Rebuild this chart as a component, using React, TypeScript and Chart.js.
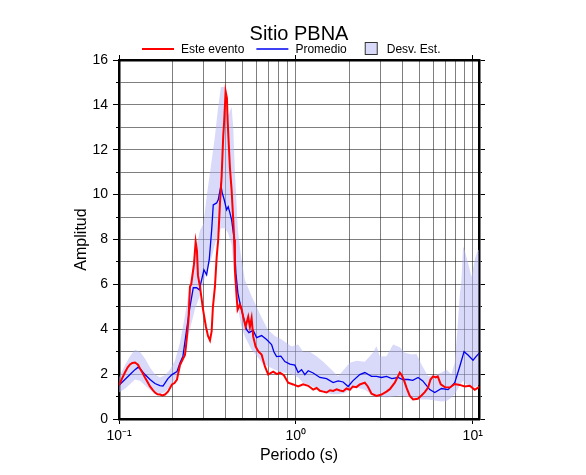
import React, { useEffect, useRef } from 'react';
import { Chart, registerables } from 'chart.js';
Chart.register(...registerables);

const chartTitle = 'Sitio PBNA';
const xTitle = 'Periodo (s)';
const yTitle = 'Amplitud';
const legendLabels = ['Este evento', 'Promedio', 'Desv. Est.'];
const xDecades = [0.1, 1, 10];
const xTickLabels = ['10⁻¹', '10⁰', '10¹'];

const redPeriods = [0.100, 0.104, 0.108, 0.112, 0.1154, 0.119, 0.1231, 0.128, 0.1314, 0.136, 0.1402, 0.145, 0.1497, 0.155, 0.1597, 0.165, 0.1704, 0.176, 0.1819, 0.1891, 0.1993, 0.206, 0.2127, 0.2211, 0.229, 0.2360, 0.2389, 0.2430, 0.2470, 0.2519, 0.2560, 0.2585, 0.2654, 0.2713, 0.2759, 0.2795, 0.2869, 0.2984, 0.3103, 0.3185, 0.3269, 0.3340, 0.3397, 0.3487, 0.3565, 0.3639, 0.3721, 0.3804, 0.3884, 0.3935, 0.4007, 0.4076, 0.4113, 0.4183, 0.4238, 0.4332, 0.4423, 0.4481, 0.4522, 0.4624, 0.4684, 0.4826, 0.4930, 0.5038, 0.5197, 0.5377, 0.5497, 0.5620, 0.5739, 0.5921, 0.6150, 0.6400, 0.6682, 0.6975, 0.7200, 0.7447, 0.7810, 0.8120, 0.8552, 0.9048, 0.9654, 1.030, 1.0996, 1.174, 1.2525, 1.31, 1.367, 1.43, 1.491, 1.56, 1.625, 1.70, 1.773, 1.85, 1.934, 2.02, 2.099, 2.20, 2.299, 2.454, 2.552, 2.677, 2.857, 3.050, 3.254, 3.398, 3.625, 3.869, 3.971, 4.076, 4.222, 4.407, 4.600, 4.890, 5.131, 5.356, 5.591, 5.771, 5.967, 6.18, 6.343, 6.596, 6.949, 7.413, 7.913, 8.445, 9.012, 9.618, 10.26, 10.95];
const redValues = [1.50, 1.80, 2.07, 2.30, 2.43, 2.50, 2.52, 2.42, 2.25, 2.05, 1.85, 1.65, 1.45, 1.30, 1.18, 1.10, 1.09, 1.05, 1.09, 1.22, 1.54, 1.60, 1.76, 2.40, 2.65, 2.85, 3.2, 3.8, 4.4, 5.9, 6.0, 6.0, 6.9, 7.9, 7.5, 6.4, 5.9, 4.9, 4.1, 3.7, 3.5, 3.9, 5.0, 5.9, 7.2, 8.0, 9.6, 10.8, 12.6, 13.3, 14.6, 14.3, 13.3, 12.1, 11.2, 10.2, 8.9, 8.0, 6.65, 5.45, 4.87, 5.1, 4.9, 4.56, 4.12, 4.56, 4.1, 4.5, 3.67, 3.23, 3.0, 2.87, 2.34, 1.98, 2.05, 2.11, 2.0, 2.07, 1.95, 1.62, 1.54, 1.45, 1.55, 1.48, 1.31, 1.38, 1.26, 1.22, 1.18, 1.28, 1.25, 1.32, 1.27, 1.24, 1.36, 1.30, 1.45, 1.42, 1.54, 1.62, 1.45, 1.13, 1.03, 1.09, 1.22, 1.33, 1.62, 2.07, 1.95, 1.75, 1.40, 1.03, 0.87, 0.90, 1.05, 1.20, 1.40, 1.76, 1.90, 1.85, 1.90, 1.54, 1.42, 1.40, 1.56, 1.52, 1.45, 1.48, 1.30, 1.45];

const bluePeriods = [0.100, 0.108, 0.1154, 0.1231, 0.1280, 0.1314, 0.1402, 0.1497, 0.1597, 0.1704, 0.1773, 0.1819, 0.1891, 0.1993, 0.2127, 0.2211, 0.2299, 0.2413, 0.2519, 0.2630, 0.2748, 0.2842, 0.2932, 0.3021, 0.3129, 0.3237, 0.3340, 0.3411, 0.3565, 0.3639, 0.3770, 0.3834, 0.3935, 0.4060, 0.4145, 0.4238, 0.4332, 0.4481, 0.4581, 0.4703, 0.4826, 0.5038, 0.5266, 0.5426, 0.5739, 0.5998, 0.6400, 0.6831, 0.7290, 0.7511, 0.7780, 0.8228, 0.8665, 0.9250, 0.9871, 1.030, 1.077, 1.124, 1.174, 1.2525, 1.367, 1.491, 1.625, 1.734, 1.850, 1.975, 2.099, 2.299, 2.454, 2.677, 2.857, 3.050, 3.254, 3.487, 3.784, 4.022, 4.311, 4.581, 4.909, 5.218, 5.716, 6.100, 6.657, 7.253, 7.913, 8.445, 8.930, 9.405, 10.04, 10.49, 10.95];
const blueValues = [1.50, 1.76, 1.98, 2.20, 2.30, 2.25, 1.98, 1.76, 1.58, 1.49, 1.47, 1.60, 1.80, 1.98, 2.11, 2.50, 2.80, 4.0, 5.0, 5.85, 5.85, 5.76, 6.2, 6.65, 6.43, 7.1, 8.4, 9.54, 9.63, 9.77, 10.4, 10.08, 9.77, 9.32, 9.46, 9.19, 8.88, 8.0, 6.5, 5.6, 5.18, 4.56, 3.98, 3.85, 3.95, 3.63, 3.72, 3.54, 3.32, 3.0, 2.78, 2.80, 2.56, 2.45, 2.40, 2.07, 2.20, 1.98, 2.15, 2.05, 1.85, 1.80, 1.62, 1.70, 1.65, 1.45, 1.70, 1.98, 2.07, 1.90, 1.90, 1.85, 1.90, 1.80, 1.85, 1.76, 1.76, 1.72, 1.85, 1.70, 1.31, 1.18, 1.36, 1.31, 1.62, 2.34, 3.00, 2.85, 2.62, 2.80, 2.96];

const bandPeriods = [0.100, 0.108, 0.1154, 0.1231, 0.1314, 0.1402, 0.1497, 0.1597, 0.1704, 0.1819, 0.1941, 0.2072, 0.2211, 0.2360, 0.2519, 0.2688, 0.2869, 0.3002, 0.3142, 0.3340, 0.3487, 0.3625, 0.3770, 0.3971, 0.4128, 0.4332, 0.4423, 0.4522, 0.4703, 0.4890, 0.5150, 0.5620, 0.6101, 0.6425, 0.6947, 0.7611, 0.8303, 0.9456, 1.030, 1.0996, 1.199, 1.309, 1.427, 1.591, 1.734, 1.867, 2.018, 2.203, 2.454, 2.734, 2.857, 2.983, 3.254, 3.546, 3.869, 4.129, 4.505, 4.807, 5.131, 5.591, 6.100, 6.657, 7.104, 7.580, 7.913, 8.196, 8.445, 8.634, 8.815, 9.012, 9.405, 9.832, 10.26, 10.71, 10.95];
const bandUpper = [1.85, 2.40, 2.80, 3.09, 3.00, 2.70, 2.30, 2.00, 1.85, 1.95, 2.20, 2.60, 3.40, 4.60, 6.00, 7.40, 8.40, 8.70, 10.0, 11.5, 12.6, 13.8, 14.8, 14.8, 13.5, 13.9, 13.0, 11.0, 8.40, 7.30, 6.20, 5.47, 4.87, 4.50, 3.98, 3.70, 3.54, 3.23, 3.32, 3.00, 3.00, 2.80, 2.55, 2.20, 1.90, 2.20, 2.51, 2.60, 2.55, 2.96, 3.25, 2.78, 2.80, 3.32, 3.20, 2.95, 2.87, 2.90, 2.43, 1.90, 1.95, 2.07, 2.20, 2.00, 2.51, 4.00, 5.50, 6.20, 7.68, 7.50, 6.96, 6.34, 7.10, 7.54, 7.50];
const bandLower = [1.18, 1.35, 1.55, 1.76, 1.70, 1.50, 1.30, 1.15, 1.10, 1.20, 1.45, 1.75, 2.20, 3.00, 4.00, 4.90, 5.50, 6.10, 6.60, 7.20, 7.80, 8.20, 8.50, 8.50, 8.30, 7.80, 7.00, 6.00, 5.00, 4.20, 3.67, 3.09, 2.75, 2.51, 2.35, 2.20, 2.10, 2.00, 1.85, 1.60, 1.50, 1.35, 1.20, 1.10, 1.10, 1.15, 1.30, 1.40, 1.30, 1.05, 1.00, 1.00, 0.96, 1.00, 1.05, 1.00, 0.96, 0.92, 0.87, 0.87, 0.82, 0.78, 0.80, 0.96, 1.10, 1.30, 1.50, 1.60, 1.70, 1.60, 1.50, 1.40, 1.40, 1.50, 1.50];

const FONT = '"Liberation Sans", Arial, Helvetica, sans-serif';
const RED = 'rgb(255,0,0)';
const BLUE = 'rgb(0,0,240)';
const BAND = 'rgba(180,180,245,0.5)';
const BAND_SOLID = 'rgb(217,217,250)';
const GRID = 'rgba(0,0,0,0.5)';

const pts = (xs: number[], ys: number[]) => xs.map((x, i) => ({ x, y: ys[i] }));
const isDecade = (v: number) => Math.abs(Math.log10(v) - Math.round(Math.log10(v))) < 1e-6;

const legendPlugin = {
  id: 'customTitleLegend',
  afterDraw(chart: any) {
    const { ctx, chartArea } = chart;
    ctx.save();
    ctx.fillStyle = '#000';
    ctx.font = `20px ${FONT}`;
    ctx.textAlign = 'center';
    ctx.textBaseline = 'alphabetic';
    ctx.fillText(chartTitle, (chartArea.left + chartArea.right) / 2, 40);

    ctx.font = `12px ${FONT}`;
    ctx.textAlign = 'left';
    const ly = 49;
    let x = chartArea.left + 23;
    // red line
    ctx.strokeStyle = RED; ctx.lineWidth = 2;
    ctx.beginPath(); ctx.moveTo(x, ly); ctx.lineTo(x + 32, ly); ctx.stroke();
    x += 39;
    ctx.fillText(legendLabels[0], x, 53);
    x += ctx.measureText(legendLabels[0]).width + 12;
    ctx.strokeStyle = BLUE; ctx.lineWidth = 1.5;
    ctx.beginPath(); ctx.moveTo(x, ly); ctx.lineTo(x + 32, ly); ctx.stroke();
    x += 39;
    ctx.fillText(legendLabels[1], x, 53);
    x += ctx.measureText(legendLabels[1]).width + 18;
    ctx.fillStyle = BAND_SOLID;
    ctx.fillRect(x + 0.5, 42.5, 12, 12);
    ctx.strokeStyle = '#333'; ctx.lineWidth = 1;
    ctx.strokeRect(x + 0.5, 42.5, 12, 12);
    x += 22;
    ctx.fillStyle = '#000';
    ctx.fillText(legendLabels[2], x, 53);
    ctx.restore();
  },
};

export default function App() {
  const ref = useRef<HTMLCanvasElement>(null);
  useEffect(() => {
    Chart.defaults.font.family = FONT;
    Chart.defaults.color = '#000';
    const minorTicks: number[] = [];
    for (let d = 0; d < xDecades.length; d++) {
      for (let m = 1; m <= 9; m++) {
        const v = xDecades[d] * m;
        if (v <= 10.85) minorTicks.push(v);
      }
    }
    const xMin = 0.1, xMax = 10.85;
    const borderW = 2.5;
    const chart = new Chart(ref.current!, {
      type: 'line',
      data: {
        datasets: [
          { label: legendLabels[0], data: pts(redPeriods, redValues), borderColor: RED, borderWidth: 2, pointRadius: 0, tension: 0, fill: false, yAxisID: 'y', xAxisID: 'x' },
          { label: legendLabels[1], data: pts(bluePeriods, blueValues), borderColor: BLUE, borderWidth: 1.3, pointRadius: 0, tension: 0, fill: false, yAxisID: 'y', xAxisID: 'x' },
          { label: legendLabels[2], data: pts(bandPeriods, bandUpper), borderColor: 'rgba(0,0,0,0)', borderWidth: 0, backgroundColor: BAND, pointRadius: 0, tension: 0, fill: '+1', yAxisID: 'y', xAxisID: 'x' },
          { label: 'lower', data: pts(bandPeriods, bandLower), borderColor: 'rgba(0,0,0,0)', borderWidth: 0, pointRadius: 0, tension: 0, fill: false, yAxisID: 'y', xAxisID: 'x' },
        ],
      },
      options: {
        responsive: false,
        animation: false,
        devicePixelRatio: 1,
        layout: { padding: 0 },
        plugins: { legend: { display: false }, tooltip: { enabled: false }, title: { display: false } },
        scales: {
          x: {
            type: 'logarithmic', position: 'bottom', min: xMin, max: xMax,
            afterBuildTicks: (s: any) => { s.ticks = minorTicks.map((v) => ({ value: v, major: isDecade(v) })); },
            afterFit: (s: any) => { s.height = 56; },
            grid: { color: GRID, lineWidth: 1, drawTicks: true, tickLength: 5, tickColor: (c: any) => (c.tick && isDecade(c.tick.value) ? '#000' : 'rgba(0,0,0,0)'), tickWidth: 1 },
            border: { display: true, color: '#000', width: borderW },
            ticks: {
              autoSkip: false, maxRotation: 0, padding: 4, font: { size: 14 }, color: '#000',
              callback: (v: any) => { const i = xDecades.findIndex((d) => Math.abs(d - Number(v)) < 1e-9); return i >= 0 ? xTickLabels[i] : ''; },
            },
            title: { display: true, text: xTitle, font: { size: 16 }, color: '#000', padding: { top: 0, bottom: 10 } },
          },
          x2: {
            type: 'logarithmic', position: 'top', min: xMin, max: xMax,
            afterBuildTicks: (s: any) => { s.ticks = xDecades.map((v) => ({ value: v, major: true })); },
            afterFit: (s: any) => { s.height = 60; },
            grid: { drawOnChartArea: false, drawTicks: true, tickLength: 5, tickColor: '#000' },
            border: { display: true, color: '#000', width: borderW },
            ticks: { display: false },
          },
          yLab: {
            type: 'linear', position: 'left', min: 0, max: 16, weight: 10,
            afterFit: (s: any) => { s.width = 116; },
            grid: { drawOnChartArea: false, drawTicks: true, tickLength: 3, tickColor: '#000' },
            border: { display: false },
            ticks: { stepSize: 2, padding: 5, font: { size: 14 }, color: '#000' },
            title: { display: true, text: yTitle, font: { size: 16 }, color: '#000', padding: { top: 72, bottom: 0 } },
          },
          y: {
            type: 'linear', position: 'left', min: 0, max: 16, weight: 0,
            afterFit: (s: any) => { s.width = 3; },
            grid: { color: GRID, lineWidth: 1, drawTicks: true, tickLength: 3, tickColor: '#000' },
            border: { display: true, color: '#000', width: borderW },
            ticks: { stepSize: 1, display: false },
          },
          yR: {
            type: 'linear', position: 'right', min: 0, max: 16, weight: 0,
            afterFit: (s: any) => { s.width = 3; },
            grid: { drawOnChartArea: false, drawTicks: true, tickLength: 3, tickColor: '#000' },
            border: { display: true, color: '#000', width: borderW },
            ticks: { stepSize: 1, display: false },
          },
          yR2: {
            type: 'linear', position: 'right', min: 0, max: 16, weight: 10,
            afterFit: (s: any) => { s.width = 104; },
            grid: { drawOnChartArea: false, drawTicks: true, tickLength: 3, tickColor: '#000' },
            border: { display: false },
            ticks: { stepSize: 2, display: false },
          },
        },
      } as any,
      plugins: [legendPlugin],
    });
    return () => chart.destroy();
  }, []);
  return (
    <div style={{ position: 'absolute', left: 0, top: 0, width: 586, height: 475 }}>
      <canvas ref={ref} width={586} height={475} style={{ display: 'block' }} />
    </div>
  );
}
